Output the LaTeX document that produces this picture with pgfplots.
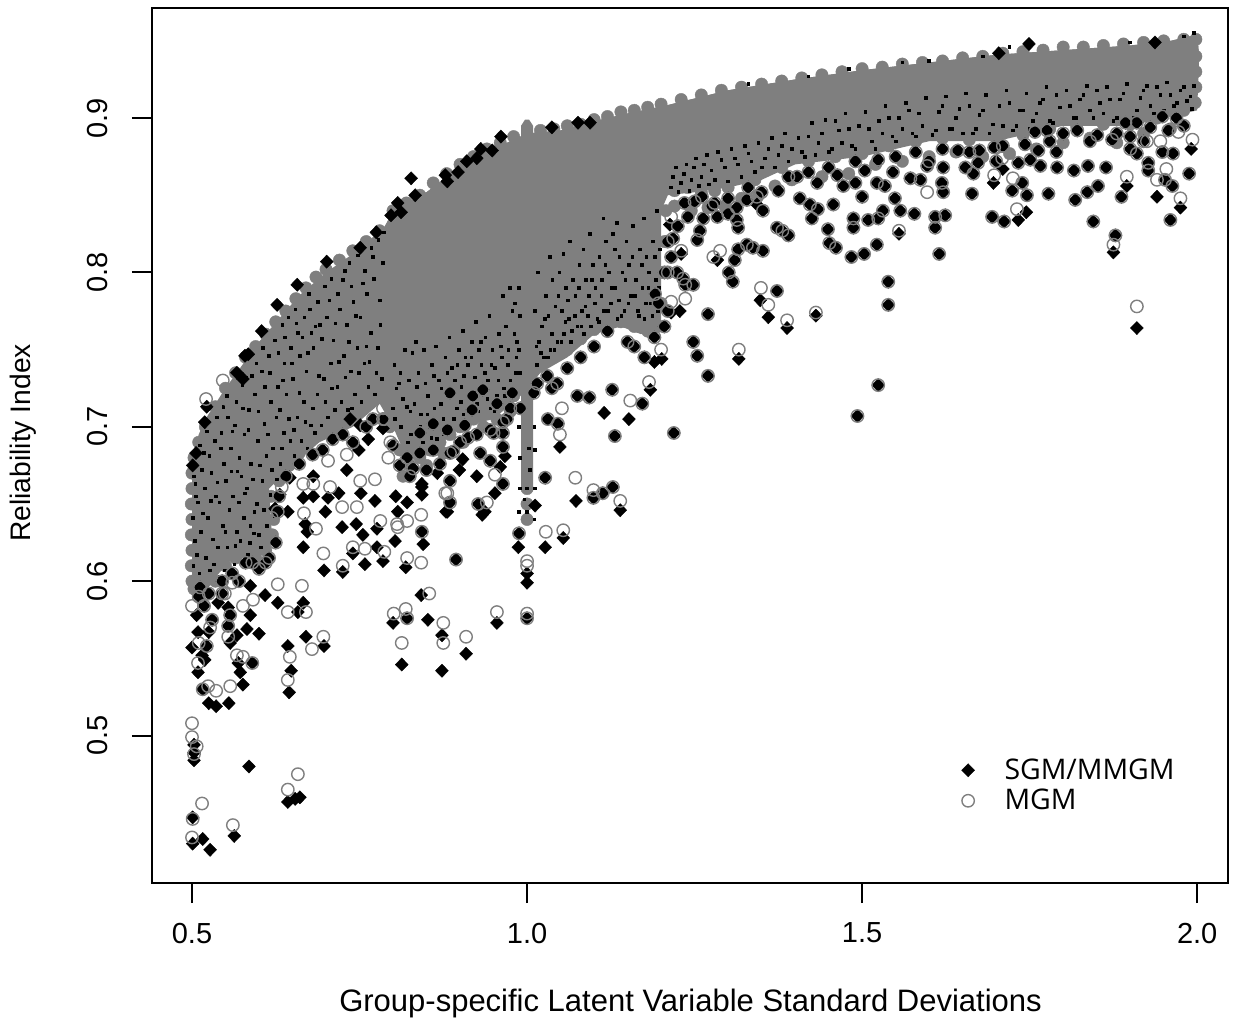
\documentclass[border=0pt]{standalone}
\usepackage{fontspec}
\setmainfont{Liberation Sans}
\newfontfamily\legfont{Open Sans}
\usepackage{pgfplots}
\pgfplotsset{compat=1.18}
\definecolor{rgray}{HTML}{7F7F7F}
\pgfplotsset{
 sgm/.style={only marks,mark=diamond*,mark size=3.3bp,mark options={xscale=1.3,fill=black,draw=black,line width=0.2bp}},
 mgm/.style={only marks,mark=o,mark size=3.1bp,mark options={draw=rgray,line width=0.7bp}},
 spk/.style={only marks,mark=square*,mark size=0.65bp,mark options={fill=black,draw=none}},
 blob/.style={only marks,color=rgray,mark=*,mark size=3.1bp,mark options={fill=rgray,draw=rgray,line width=0.2bp}},
}
\begin{document}
\begin{tikzpicture}[x=1bp,y=1bp]
\useasboundingbox (-76bp,-69.5bp) rectangle (545.5bp,441.5bp);
\begin{axis}[
 at={(0,0)},anchor=south west,scale only axis,width=538bp,height=437.5bp,
 xmin=0.4403,xmax=2.046,ymin=0.4045,ymax=0.9713,
 axis line style={line width=1bp},
 tick style={line width=1bp,black},
 tickwidth=10bp,
 tick align=outside,
 xtick={0.5,1,1.5,2},ytick={0.5,0.6,0.7,0.8,0.9},
 xtick pos=bottom,ytick pos=left,
 xticklabel style={/pgf/number format/fixed,/pgf/number format/fixed zerofill,/pgf/number format/precision=1,/pgf/number format/assume math mode=true,font=\fontsize{14.5bp}{14.5bp}\selectfont,yshift=-6.5bp},
 yticklabel style={/pgf/number format/fixed,/pgf/number format/fixed zerofill,/pgf/number format/precision=1,/pgf/number format/assume math mode=true,font=\fontsize{14.5bp}{14.5bp}\selectfont,rotate=90,anchor=south,yshift=8.5bp},
 xlabel={Group-specific Latent Variable Standard Deviations},
 ylabel={Reliability Index},
 xlabel style={font=\fontsize{15.5bp}{15.5bp}\selectfont,at={(axis description cs:0.5005,0)},anchor=center,yshift=-60bp},
 ylabel style={font=\fontsize{14.1bp}{14.1bp}\selectfont,at={(axis description cs:0,0.503)},anchor=center,yshift=64.5bp},
 legend style={draw=none,fill=none,at={(axis cs:1.648,0.488)},anchor=north west,font=\legfont\fontsize{14.2bp}{15bp}\selectfont,row sep=-0.5bp,inner sep=0pt},
 legend cell align=left,
 clip=true,
]
% speckled mass
\addplot[fill=rgray,draw=none,forget plot] coordinates {
(.5,.675)(.51,.695)(.52,.705)(.55,.725)(.575,.74)(.6,.755)(.63,.77)(.66,.785)(.7,.80)(.75,.815)(.788,.83)(.80,.84)(.85,.852)(.915,.873)(.96,.882)(1.0,.89)(1.05,.892)(1.1,.898)(1.15,.903)(1.206,.908)(1.3,.918)(1.4,.925)(1.5,.931)(1.6,.936)(1.7,.941)(1.8,.944)(1.9,.947)(1.96,.95)(2.0,.954)(2.003,.94)(2.0,.905)
(1.9,.895)(1.8,.895)(1.7,.885)(1.6,.885)(1.5,.875)(1.4,.87)(1.35,.86)(1.3,.855)(1.25,.852)(1.21,.85)(1.2,.84)(1.2,.765)(1.17,.76)(1.14,.765)(1.1,.76)(1.06,.745)(1.02,.735)(.99,.72)(.95,.705)(.90,.70)(.86,.685)(.82,.68)(.80,.70)(.78,.715)(.74,.70)(.69,.69)(.65,.675)(.615,.66)(.62,.625)(.6,.615)(.56,.615)(.53,.60)(.5,.60)
} -- cycle;
% rounded edge of the mass
\addplot[blob,forget plot] coordinates {
(.5,.60)(.499,.61)(.5,.62)(.499,.63)(.5,.64)(.499,.65)(.5,.66)(.5,.67)(.503,.595)(.503,.68)
(.51,.69)(.52,.70)(.535,.713)(.55,.725)(.565,.735)(.58,.745)(.595,.752)(.61,.76)(.625,.768)(.64,.775)(.655,.783)(.67,.79)(.685,.797)(.70,.802)(.72,.808)(.74,.814)(.76,.82)(.78,.827)(.80,.84)(.82,.845)(.84,.85)(.86,.858)(.88,.864)(.90,.87)(.92,.875)(.94,.88)(.96,.884)(.98,.888)(1.02,.892)(1.04,.893)(1.06,.895)(1.08,.896)(1.1,.899)(1.12,.901)(1.14,.904)(1.16,.905)(1.18,.907)(1.2,.909)(1.23,.912)(1.26,.915)(1.29,.918)(1.32,.92)(1.35,.922)(1.38,.924)(1.41,.926)(1.44,.928)(1.47,.93)(1.5,.932)(1.53,.933)(1.56,.935)(1.59,.936)(1.62,.937)(1.65,.939)(1.68,.94)(1.71,.942)(1.74,.943)(1.77,.944)(1.8,.946)(1.83,.946)(1.86,.947)(1.89,.948)(1.92,.949)(1.95,.95)(1.98,.951)(1.998,.951)(1.998,.94)(1.998,.93)(1.998,.92)(1.997,.91)
(.51,.595)(.52,.60)(.535,.60)(.55,.61)(.565,.615)(.58,.62)(.595,.615)(.61,.62)(.62,.63)(.622,.64)(.618,.655)(.63,.665)(.645,.675)(.66,.683)(.675,.69)(.69,.695)(.705,.698)(.72,.70)(.735,.705)(.75,.71)(.765,.715)(.78,.72)
(.795,.70)(.81,.685)(.825,.675)(.84,.68)(.855,.685)(.87,.69)(.885,.695)(.90,.70)(.92,.705)(.94,.71)(.96,.715)(.98,.72)(1.02,.74)(1.04,.745)(1.06,.75)(1.08,.757)(1.10,.763)(1.12,.77)(1.14,.768)(1.16,.765)(1.18,.762)(1.195,.765)(1.2,.78)(1.203,.80)(1.205,.82)(1.207,.84)
(1.22,.853)(1.24,.855)(1.26,.852)(1.28,.853)(1.30,.855)(1.34,.86)(1.38,.868)(1.42,.872)(1.46,.875)(1.5,.877)(1.54,.882)(1.58,.885)(1.62,.887)(1.66,.886)(1.70,.887)(1.74,.889)(1.78,.893)(1.82,.895)(1.86,.896)(1.90,.896)(1.94,.90)(1.98,.905)
(1.22,.843)(1.245,.84)(1.27,.842)(1.295,.843)(1.32,.848)(1.345,.85)(1.37,.856)(1.395,.86)(1.44,.862)(1.48,.864)(1.52,.87)(1.56,.872)(1.6,.875)(1.64,.878)(1.68,.875)(1.72,.877)(1.76,.88)(1.8,.884)(1.84,.887)(1.88,.884)(1.92,.89)(1.96,.893)
(.85,.675)(.875,.683)(.905,.69)(.935,.70)(.955,.705)(.975,.71)(.815,.668)
(1,.66)(1,.65)(1,.64)
};
% black specks left
\addplot[spk,forget plot] coordinates {
(.502,.61)(.504,.626)(.501,.641)(.506,.655)(.503,.668)(.511,.605)(.513,.632)(.509,.651)(.515,.672)(.512,.688)
(.521,.615)(.524,.641)(.519,.66)(.526,.681)(.522,.697)(.533,.611)(.531,.627)(.536,.655)(.529,.67)(.534,.691)(.537,.706)
(.542,.603)(.546,.636)(.541,.651)(.548,.676)(.544,.696)(.547,.713)(.553,.622)(.556,.646)(.551,.665)(.558,.686)(.554,.706)(.552,.72)
(.563,.611)(.567,.632)(.561,.655)(.568,.671)(.564,.701)(.566,.716)(.572,.626)(.577,.641)(.571,.68)(.578,.695)(.575,.727)
(.583,.617)(.587,.636)(.582,.66)(.588,.676)(.585,.711)(.581,.732)(.592,.631)(.597,.65)(.591,.666)(.598,.691)(.594,.721)(.596,.741)
(.603,.622)(.607,.646)(.601,.675)(.608,.702)(.604,.736)(.606,.751)(.612,.636)(.617,.656)(.611,.681)(.618,.716)(.615,.746)
(.623,.642)(.627,.666)(.621,.686)(.628,.726)(.624,.756)(.632,.676)(.637,.696)(.631,.711)(.638,.741)(.635,.766)
(.643,.671)(.647,.691)(.641,.721)(.648,.751)(.644,.771)(.653,.681)(.657,.706)(.651,.731)(.658,.761)(.654,.776)
(.663,.691)(.667,.716)(.661,.746)(.668,.771)(.672,.686)(.677,.701)(.671,.736)(.678,.761)(.674,.786)(.683,.696)(.687,.721)(.681,.751)(.688,.781)
(.693,.701)(.697,.731)(.691,.766)(.698,.791)(.703,.706)(.707,.741)(.701,.771)(.708,.796)(.713,.711)(.717,.726)(.711,.756)(.718,.786)
(.723,.716)(.727,.746)(.721,.776)(.728,.801)(.733,.711)(.737,.736)(.731,.766)(.738,.791)(.735,.806)(.743,.721)(.747,.751)(.741,.781)(.748,.811)
(.753,.716)(.757,.741)(.751,.771)(.758,.801)(.763,.726)(.767,.761)(.761,.786)(.768,.816)(.773,.721)(.777,.751)(.771,.796)(.778,.821)(.783,.731)(.781,.766)(.785,.806)(.786,.826)
(.507,.617)(.516,.644)(.505,.663)(.518,.683)(.527,.607)(.528,.652)(.539,.622)(.538,.664)(.543,.686)(.549,.607)(.55,.632)(.559,.671)(.56,.697)(.565,.623)(.57,.651)(.574,.668)(.576,.712)(.579,.657)(.586,.625)(.584,.698)(.589,.733)(.593,.645)(.6,.63)(.599,.71)(.605,.665)(.609,.726)(.613,.695)(.616,.735)(.619,.672)(.626,.706)(.629,.748)(.634,.686)(.636,.73)(.639,.758)(.645,.705)(.649,.741)(.652,.698)(.656,.767)(.66,.722)(.665,.758)(.669,.703)(.673,.748)(.676,.776)(.68,.712)(.684,.765)(.689,.733)(.694,.757)(.699,.716)(.705,.782)(.709,.725)(.714,.767)(.719,.742)(.725,.795)(.729,.732)(.734,.755)(.739,.712)(.745,.772)(.749,.735)(.755,.793)(.76,.752)(.765,.742)(.77,.81)(.775,.735)(.78,.782)
};
% black specks middle
\addplot[spk,forget plot] coordinates {
(.80,.712)(.805,.725)(.802,.74)(.812,.70)(.815,.718)(.811,.735)(.818,.75)(.822,.69)(.826,.71)(.824,.73)(.829,.748)(.835,.695)(.832,.715)(.838,.735)(.834,.755)
(.845,.69)(.842,.708)(.848,.728)(.846,.75)(.855,.70)(.852,.72)(.858,.74)(.865,.692)(.862,.712)(.868,.73)(.864,.752)(.875,.705)(.872,.725)(.878,.745)(.885,.70)(.882,.72)(.888,.738)(.884,.758)
(.895,.712)(.892,.73)(.898,.75)(.905,.708)(.902,.726)(.908,.745)(.904,.762)(.915,.72)(.912,.74)(.918,.755)(.925,.715)(.922,.732)(.928,.75)(.924,.768)(.935,.722)(.932,.74)(.938,.758)
(.945,.712)(.942,.73)(.948,.75)(.944,.772)(.955,.72)(.952,.738)(.958,.76)(.965,.725)(.962,.745)(.968,.765)(.964,.785)(.975,.73)(.972,.75)(.978,.775)(.974,.79)(.983,.735)(.985,.755)(.982,.78)
(1.015,.74)(1.018,.755)(1.012,.775)(1.016,.80)(1.025,.745)(1.022,.765)(1.028,.785)(1.035,.75)(1.032,.772)(1.038,.795)(1.034,.81)(1.045,.755)(1.042,.778)(1.048,.80)
(1.055,.76)(1.052,.775)(1.058,.79)(1.054,.812)(1.065,.755)(1.062,.77)(1.068,.795)(1.064,.82)(1.075,.765)(1.072,.785)(1.078,.805)(1.085,.76)(1.082,.775)(1.088,.795)(1.084,.815)
(1.095,.765)(1.092,.785)(1.098,.805)(1.094,.825)(1.105,.77)(1.102,.79)(1.108,.81)(1.115,.775)(1.112,.795)(1.118,.82)(1.114,.835)(1.125,.78)(1.122,.80)(1.128,.825)(1.135,.77)(1.132,.79)(1.138,.81)(1.134,.832)
(1.145,.775)(1.142,.80)(1.148,.82)(1.155,.785)(1.152,.805)(1.158,.83)(1.165,.775)(1.162,.795)(1.168,.815)(1.175,.77)(1.172,.79)(1.178,.81)(1.174,.835)(1.185,.78)(1.182,.80)(1.188,.82)(1.195,.775)(1.192,.795)(1.198,.815)(1.194,.84)
(.989,.735)(.988,.75)(.989,.772)(.988,.79)(.989,.68)(.988,.70)(.989,.66)(.988,.645)(1.011,.70)(1.012,.685)(1.011,.72)(1.012,.66)(1.011,.64)(1.0,.66)(1.004,.672)(.996,.653)(1.0,.645)(1.003,.686)
(.803,.705)(.809,.728)(.821,.713)(.827,.695)(.836,.726)(.841,.7)(.851,.708)(.857,.693)(.861,.733)(.871,.715)(.876,.695)(.881,.735)(.891,.705)(.896,.74)(.901,.716)(.906,.733)(.911,.71)(.917,.745)(.921,.722)(.927,.71)(.931,.755)(.937,.735)(.941,.718)(.947,.74)(.951,.71)(.957,.73)(.961,.752)(.967,.72)(.971,.74)(.977,.725)(.981,.76)(.984,.745)
(1.014,.752)(1.021,.748)(1.027,.77)(1.031,.745)(1.037,.76)(1.041,.75)(1.047,.785)(1.051,.755)(1.057,.768)(1.061,.782)(1.067,.762)(1.071,.772)(1.077,.79)(1.081,.765)(1.087,.778)(1.091,.772)(1.097,.795)(1.101,.78)(1.107,.768)(1.111,.785)(1.117,.805)(1.121,.775)(1.127,.79)(1.131,.815)(1.137,.782)(1.141,.772)(1.147,.795)(1.151,.78)(1.157,.81)(1.161,.785)(1.167,.772)(1.171,.805)(1.177,.78)(1.181,.79)(1.187,.772)(1.191,.81)(1.197,.79)
};
% black specks right band
\addplot[spk,forget plot] coordinates {
(1.215,.855)(1.222,.868)(1.23,.858)(1.238,.87)(1.245,.86)(1.252,.874)(1.26,.862)(1.268,.876)(1.275,.866)(1.285,.878)(1.295,.868)(1.305,.88)(1.315,.87)(1.325,.882)(1.335,.872)(1.345,.884)(1.355,.874)(1.365,.887)(1.375,.876)(1.385,.89)(1.395,.88)
(1.405,.887)(1.415,.875)(1.425,.897)(1.435,.884)(1.445,.899)(1.455,.88)(1.465,.892)(1.475,.903)(1.485,.882)(1.495,.895)(1.505,.904)(1.515,.885)(1.525,.898)(1.535,.908)(1.545,.888)(1.555,.90)(1.565,.91)(1.575,.89)(1.585,.903)(1.595,.913)
(1.605,.889)(1.615,.904)(1.625,.914)(1.635,.893)(1.645,.906)(1.655,.916)(1.665,.89)(1.675,.902)(1.685,.915)(1.695,.896)(1.705,.908)(1.715,.918)(1.725,.892)(1.735,.905)(1.745,.916)(1.755,.898)(1.765,.91)(1.775,.92)(1.785,.897)(1.795,.907)
(1.805,.918)(1.815,.90)(1.825,.912)(1.835,.921)(1.845,.90)(1.855,.91)(1.865,.92)(1.875,.898)(1.885,.912)(1.895,.922)(1.905,.90)(1.915,.913)(1.925,.921)(1.935,.903)(1.945,.915)(1.955,.923)(1.965,.908)(1.975,.918)(1.985,.911)(1.995,.921)(1.992,.906)
(1.218,.862)(1.226,.852)(1.234,.864)(1.242,.853)(1.249,.868)(1.256,.856)(1.264,.87)(1.271,.857)(1.28,.86)(1.29,.873)(1.3,.859)(1.31,.874)(1.32,.862)(1.33,.877)(1.34,.865)(1.35,.868)(1.36,.88)(1.37,.868)(1.38,.882)(1.39,.872)(1.41,.878)(1.42,.888)(1.43,.876)(1.44,.89)(1.45,.878)(1.46,.898)(1.47,.884)(1.48,.893)(1.49,.88)(1.51,.893)(1.52,.88)(1.53,.89)(1.54,.9)(1.55,.885)(1.56,.893)(1.57,.905)(1.58,.888)(1.59,.895)(1.61,.892)(1.62,.908)(1.63,.893)(1.64,.9)(1.65,.89)(1.66,.908)(1.67,.893)(1.68,.905)(1.69,.89)(1.71,.895)(1.72,.91)(1.73,.895)(1.74,.905)(1.75,.893)(1.76,.903)(1.77,.912)(1.78,.898)(1.79,.915)(1.81,.908)(1.82,.9)(1.83,.915)(1.84,.905)(1.85,.918)(1.86,.903)(1.87,.912)(1.88,.9)(1.89,.916)(1.91,.905)(1.92,.918)(1.93,.908)(1.94,.92)(1.95,.905)(1.96,.915)(1.97,.91)(1.98,.92)(1.99,.914)
(1.72,.946)(1.68,.94)(1.6,.937)(1.56,.936)(1.48,.932)(1.42,.927)(1.33,.922)(1.9,.949)(1.98,.953)(1.995,.955)
};
% SGM only
\addplot[sgm,forget plot] coordinates {
(.501,.430)(.516,.433)(.527,.426)(.501,.447)(.563,.435)(.585,.480)(.643,.457)(.654,.459)(.661,.460)(.503,.484)(.503,.489)(.503,.494)
(.525,.521)(.536,.519)(.555,.521)(.576,.533)(.572,.541)(.569,.547)(.509,.541)(.519,.549)(.515,.552)(.5,.557)(.557,.560)(.567,.565)(.582,.569)(.600,.566)(.525,.567)(.509,.567)(.507,.578)(.587,.578)(.539,.586)(.554,.583)
(.643,.558)(.648,.542)(.645,.528)(.670,.564)(.697,.558)(.658,.580)(.609,.591)(.628,.586)(.666,.586)(.587,.597)
(.842,.591)(.800,.573)(.821,.576)(.852,.575)(.873,.565)(.813,.546)(.873,.542)(.909,.553)(.955,.573)
(1,.576)(1,.605)(1,.599)(.819,.609)(.845,.624)(1.027,.622)(.987,.622)(1.054,.628)(1.139,.646)(1.073,.652)(1.012,.649)
(.933,.643)(.937,.645)(.952,.657)(.881,.645)(.925,.668)(.899,.672)(.866,.670)(.843,.661)(.843,.656)(.821,.651)(.960,.674)(.904,.679)(.967,.681)(1.049,.687)(1.115,.709)(1.152,.705)(1.184,.724)
(1.201,.744)(1.190,.742)(1.316,.744)(1.388,.764)(1.431,.772)(1.360,.771)(1.348,.782)(1.228,.775)(1.215,.774)(1.284,.808)(1.230,.812)(1.213,.831)(1.343,.844)(1.555,.825)
(1.910,.764)(1.875,.813)(1.975,.842)(1.940,.849)(1.733,.834)(1.745,.839)(1.895,.856)(1.696,.858)(1.710,.867)(1.991,.880)
(.736,.705)(.749,.685)(.751,.701)(.763,.692)(.731,.672)(.681,.668)(.646,.667)(.631,.656)(.681,.655)(.666,.654)(.703,.654)(.719,.657)(.752,.657)(.773,.652)(.624,.647)(.643,.645)(.699,.645)(.669,.637)(.672,.632)(.724,.635)(.745,.637)(.755,.630)(.776,.634)(.803,.626)(.807,.645)(.843,.663)(.804,.655)(.879,.645)(.740,.618)(.776,.622)(.758,.611)(.785,.613)(.725,.606)(.697,.607)(.666,.622)
(.506,.683)(.501,.675)(.522,.713)(.519,.703)(.785,.699)(.584,.747)(.576,.731)(.567,.735)
(.827,.861)(.833,.850)(.807,.845)(.812,.839)(.797,.837)(.775,.826)(.751,.816)(.878,.863)(.897,.865)(.910,.872)(.931,.880)(.948,.879)(.961,.888)(1.037,.894)(1.076,.897)(1.094,.897)(.925,.874)(.881,.859)
(.701,.807)(.657,.792)(.627,.779)(.604,.762)(.579,.746)(1.749,.948)(1.704,.942)(1.937,.949)
};
% both
\addplot[sgm,forget plot] coordinates {
(.516,.530)(.590,.547)(.522,.558)(.554,.571)(.518,.584)(.557,.578)(.894,.614)(.843,.632)(.988,.631)(1.128,.661)(1.113,.657)(1.099,.654)(1.027,.667)(.927,.650)(.964,.663)(.885,.651)(.885,.665)(1.046,.702)(1.031,.705)(1.037,.725)(1.075,.720)(1.093,.719)(1.172,.715)(1.127,.724)(1.219,.696)(1.131,.694)
(1.493,.707)(1.524,.727)(1.539,.779)(1.539,.794)(1.615,.812)(1.270,.733)(1.254,.746)(1.248,.755)(1.373,.788)(1.270,.773)(1.196,.780)(1.191,.786)(1.248,.792)(1.236,.792)(1.224,.800)(1.233,.796)(1.307,.794)(1.301,.800)(1.310,.808)(1.352,.814)(1.337,.816)(1.328,.818)(1.315,.815)(1.218,.822)(1.254,.821)(1.258,.827)(1.240,.836)(1.263,.835)(1.284,.836)(1.313,.834)(1.315,.829)(1.276,.843)(1.261,.849)(1.313,.842)(1.300,.848)(1.328,.847)(1.352,.840)(1.373,.829)(1.390,.824)(1.381,.827)
(1.449,.828)(1.451,.819)(1.461,.816)(1.484,.810)(1.503,.812)(1.522,.818)(1.487,.829)(1.487,.835)(1.509,.834)(1.524,.835)(1.425,.835)(1.434,.841)(1.422,.844)(1.457,.844)(1.500,.849)(1.531,.840)(1.549,.848)(1.557,.840)(1.578,.838)(1.609,.836)(1.609,.829)(1.624,.837)
(1.472,.856)(1.433,.858)(1.403,.862)(1.375,.853)(1.407,.848)(1.522,.858)(1.534,.856)(1.504,.866)(1.524,.873)(1.572,.861)(1.587,.860)(1.546,.865)(1.619,.858)(1.621,.852)(1.621,.868)(1.597,.869)(1.463,.863)
(1.878,.824)(1.845,.833)(1.960,.834)(1.694,.836)(1.712,.833)(1.818,.847)(1.836,.852)(1.852,.856)(1.887,.849)(1.778,.851)(1.746,.850)(1.724,.853)(1.739,.858)(1.664,.851)(1.654,.868)(1.666,.864)(1.673,.871)(1.733,.871)(1.751,.873)(1.766,.869)(1.791,.868)(1.816,.866)(1.837,.869)(1.864,.868)(1.927,.871)(1.927,.866)(1.910,.877)(1.900,.888)(1.952,.860)(1.963,.856)(1.988,.864)(1.964,.877)(1.948,.878)
(1.643,.879)(1.675,.879)(1.697,.881)(1.743,.883)(1.763,.879)(1.800,.890)(1.776,.892)(1.758,.891)(1.821,.892)(1.851,.889)(1.873,.886)(1.930,.894)(1.957,.892)(1.969,.900)(1.948,.901)(1.910,.897)(1.893,.897)
(.840,.696)(.860,.702)(.881,.698)(.912,.693)(.885,.683)(.930,.683)(.945,.698)(.964,.703)(.964,.696)(.955,.715)(.975,.712)(.918,.711)(.907,.701)(.840,.683)(.821,.680)(.830,.673)(.860,.685)(.945,.678)(.964,.687)(.885,.722)(.919,.720)(.934,.724)(.978,.722)(1.015,.728)
(.530,.575)(.545,.592)(.512,.596)(.570,.600)(.600,.608)(.615,.615)(.590,.612)(.640,.668)(.660,.676)(.695,.685)(.725,.695)(.770,.705)(.800,.688)(.825,.668)(.870,.676)(.900,.690)(.950,.696)(.990,.712)(1.03,.733)(1.06,.738)(1.10,.752)(1.15,.755)(1.19,.758)(1.205,.80)(1.21,.82)(1.25,.846)
(1.21,.80)(1.215,.81)(1.225,.83)(1.235,.845)(1.28,.845)(1.30,.838)(1.33,.855)(1.35,.852)(1.39,.862)(1.42,.865)(1.45,.868)(1.49,.858)(1.49,.872)(1.55,.875)(1.58,.878)(1.62,.88)(1.66,.878)(1.71,.882)(1.78,.885)(1.84,.885)(1.88,.89)(1.92,.885)(1.98,.895)(1.6,.872)(1.7,.872)(1.79,.878)(1.9,.88)
(.51,.59)(.525,.592)(.56,.605)(.58,.612)(.545,.60)(.61,.612)(.625,.625)(.628,.645)(.63,.655)(.68,.682)(.71,.692)(.74,.69)(.76,.70)(.785,.705)(.81,.675)(.85,.672)(.89,.684)(.925,.695)(.97,.705)(1.01,.722)(1.045,.728)(1.08,.745)(1.12,.762)(1.16,.752)(1.175,.745)(1.21,.775)(1.205,.765)
};
% rings on the same points
\addplot[mgm,forget plot] coordinates {
(.516,.530)(.590,.547)(.522,.558)(.554,.571)(.518,.584)(.557,.578)(.894,.614)(.843,.632)(.988,.631)(1.128,.661)(1.113,.657)(1.099,.654)(1.027,.667)(.927,.650)(.964,.663)(.885,.651)(.885,.665)(1.046,.702)(1.031,.705)(1.037,.725)(1.075,.720)(1.093,.719)(1.172,.715)(1.127,.724)(1.219,.696)(1.131,.694)
(1.493,.707)(1.524,.727)(1.539,.779)(1.539,.794)(1.615,.812)(1.270,.733)(1.254,.746)(1.248,.755)(1.373,.788)(1.270,.773)(1.196,.780)(1.191,.786)(1.248,.792)(1.236,.792)(1.224,.800)(1.233,.796)(1.307,.794)(1.301,.800)(1.310,.808)(1.352,.814)(1.337,.816)(1.328,.818)(1.315,.815)(1.218,.822)(1.254,.821)(1.258,.827)(1.240,.836)(1.263,.835)(1.284,.836)(1.313,.834)(1.315,.829)(1.276,.843)(1.261,.849)(1.313,.842)(1.300,.848)(1.328,.847)(1.352,.840)(1.373,.829)(1.390,.824)(1.381,.827)
(1.449,.828)(1.451,.819)(1.461,.816)(1.484,.810)(1.503,.812)(1.522,.818)(1.487,.829)(1.487,.835)(1.509,.834)(1.524,.835)(1.425,.835)(1.434,.841)(1.422,.844)(1.457,.844)(1.500,.849)(1.531,.840)(1.549,.848)(1.557,.840)(1.578,.838)(1.609,.836)(1.609,.829)(1.624,.837)
(1.472,.856)(1.433,.858)(1.403,.862)(1.375,.853)(1.407,.848)(1.522,.858)(1.534,.856)(1.504,.866)(1.524,.873)(1.572,.861)(1.587,.860)(1.546,.865)(1.619,.858)(1.621,.852)(1.621,.868)(1.597,.869)(1.463,.863)
(1.878,.824)(1.845,.833)(1.960,.834)(1.694,.836)(1.712,.833)(1.818,.847)(1.836,.852)(1.852,.856)(1.887,.849)(1.778,.851)(1.746,.850)(1.724,.853)(1.739,.858)(1.664,.851)(1.654,.868)(1.666,.864)(1.673,.871)(1.733,.871)(1.751,.873)(1.766,.869)(1.791,.868)(1.816,.866)(1.837,.869)(1.864,.868)(1.927,.871)(1.927,.866)(1.910,.877)(1.900,.888)(1.952,.860)(1.963,.856)(1.988,.864)(1.964,.877)(1.948,.878)
(1.643,.879)(1.675,.879)(1.697,.881)(1.743,.883)(1.763,.879)(1.800,.890)(1.776,.892)(1.758,.891)(1.821,.892)(1.851,.889)(1.873,.886)(1.930,.894)(1.957,.892)(1.969,.900)(1.948,.901)(1.910,.897)(1.893,.897)
(.840,.696)(.860,.702)(.881,.698)(.912,.693)(.885,.683)(.930,.683)(.945,.698)(.964,.703)(.964,.696)(.955,.715)(.975,.712)(.918,.711)(.907,.701)(.840,.683)(.821,.680)(.830,.673)(.860,.685)(.945,.678)(.964,.687)(.885,.722)(.919,.720)(.934,.724)(.978,.722)(1.015,.728)
(.530,.575)(.545,.592)(.512,.596)(.570,.600)(.600,.608)(.615,.615)(.590,.612)(.640,.668)(.660,.676)(.695,.685)(.725,.695)(.770,.705)(.800,.688)(.825,.668)(.870,.676)(.900,.690)(.950,.696)(.990,.712)(1.03,.733)(1.06,.738)(1.10,.752)(1.15,.755)(1.19,.758)(1.205,.80)(1.21,.82)(1.25,.846)
(1.21,.80)(1.215,.81)(1.225,.83)(1.235,.845)(1.28,.845)(1.30,.838)(1.33,.855)(1.35,.852)(1.39,.862)(1.42,.865)(1.45,.868)(1.49,.858)(1.49,.872)(1.55,.875)(1.58,.878)(1.62,.88)(1.66,.878)(1.71,.882)(1.78,.885)(1.84,.885)(1.88,.89)(1.92,.885)(1.98,.895)(1.6,.872)(1.7,.872)(1.79,.878)(1.9,.88)
(.51,.59)(.525,.592)(.56,.605)(.58,.612)(.545,.60)(.61,.612)(.625,.625)(.628,.645)(.63,.655)(.68,.682)(.71,.692)(.74,.69)(.76,.70)(.785,.705)(.81,.675)(.85,.672)(.89,.684)(.925,.695)(.97,.705)(1.01,.722)(1.045,.728)(1.08,.745)(1.12,.762)(1.16,.752)(1.175,.745)(1.21,.775)(1.205,.765)
};
% MGM only
\addplot[mgm,forget plot] coordinates {
(.5,.434)(.515,.456)(.501,.446)(.561,.442)(.643,.465)(.658,.475)(.5,.508)(.5,.499)(.507,.493)(.503,.488)
(.696,.564)(.679,.556)(.646,.551)(.643,.536)(.557,.532)(.536,.529)(.524,.532)(.567,.552)(.576,.551)(.509,.547)(.510,.560)(.554,.564)(.527,.570)(.5,.584)(.576,.584)(.591,.588)(.643,.580)(.670,.580)(.628,.598)(.664,.597)(.560,.599)
(.854,.592)(.801,.579)(.819,.582)(.821,.576)(.875,.573)(.875,.560)(.813,.560)(.909,.564)(.955,.580)
(1,.579)(1,.576)(1,.613)(1,.610)(.821,.615)(.842,.612)(.842,.643)(1.028,.632)(1.054,.633)(1.139,.652)(1.099,.659)(1.072,.667)(.940,.651)(.952,.669)(.881,.657)
(1.049,.695)(1.052,.712)(1.154,.717)(1.182,.729)(1.200,.750)(1.316,.750)(1.388,.769)(1.431,.774)(1.360,.779)(1.349,.790)(1.215,.781)(1.236,.783)(1.278,.810)(1.288,.814)(1.230,.814)(1.215,.836)(1.343,.849)(1.555,.827)
(1.910,.778)(1.875,.818)(1.975,.848)(1.731,.841)(1.895,.862)(1.697,.863)(1.725,.861)(1.709,.874)(1.993,.886)(1.940,.860)(1.954,.867)(1.972,.891)(1.945,.885)(1.925,.885)(1.597,.852)
(.724,.648)(.746,.648)(.667,.644)(.619,.641)(.696,.618)(.685,.634)(.725,.610)(.740,.622)(.758,.621)(.787,.619)(.807,.635)(.821,.639)(.781,.639)(.806,.637)(.666,.663)(.681,.663)(.706,.661)(.751,.665)(.773,.666)(.634,.661)(.731,.682)(.703,.678)(.785,.712)(.787,.705)(.796,.690)(.793,.680)(.878,.657)(.549,.592)(.521,.718)(.546,.730)(.552,.718)
};
% solid grey mass
\addplot[fill=rgray,draw=none,forget plot] coordinates {
(.788,.83)(.80,.84)(.85,.852)(.915,.873)(.96,.882)(1.0,.89)(1.05,.892)(1.1,.898)(1.15,.903)(1.206,.908)(1.3,.918)(1.4,.925)(1.5,.931)(1.6,.936)(1.7,.941)(1.8,.944)(1.9,.947)(1.96,.95)(2.0,.954)(2.003,.94)(2.0,.925)
(1.8,.922)(1.6,.917)(1.5,.905)(1.407,.893)(1.333,.883)(1.233,.872)(1.209,.864)(1.203,.847)(1.083,.823)(1.01,.81)(.985,.795)(.91,.769)(.86,.76)(.82,.755)(.788,.73)
} -- cycle;
\addplot[fill=rgray,draw=none,forget plot] coordinates {(.991,.66)(1.009,.66)(1.009,.895)(1.003,.899)(.997,.899)(.991,.895)} -- cycle;
\addlegendimage{sgm}
\addlegendentry{\hspace*{13bp}SGM/MMGM}
\addlegendimage{mgm}
\addlegendentry{\hspace*{13bp}MGM}
\end{axis}
\end{tikzpicture}
\end{document}
